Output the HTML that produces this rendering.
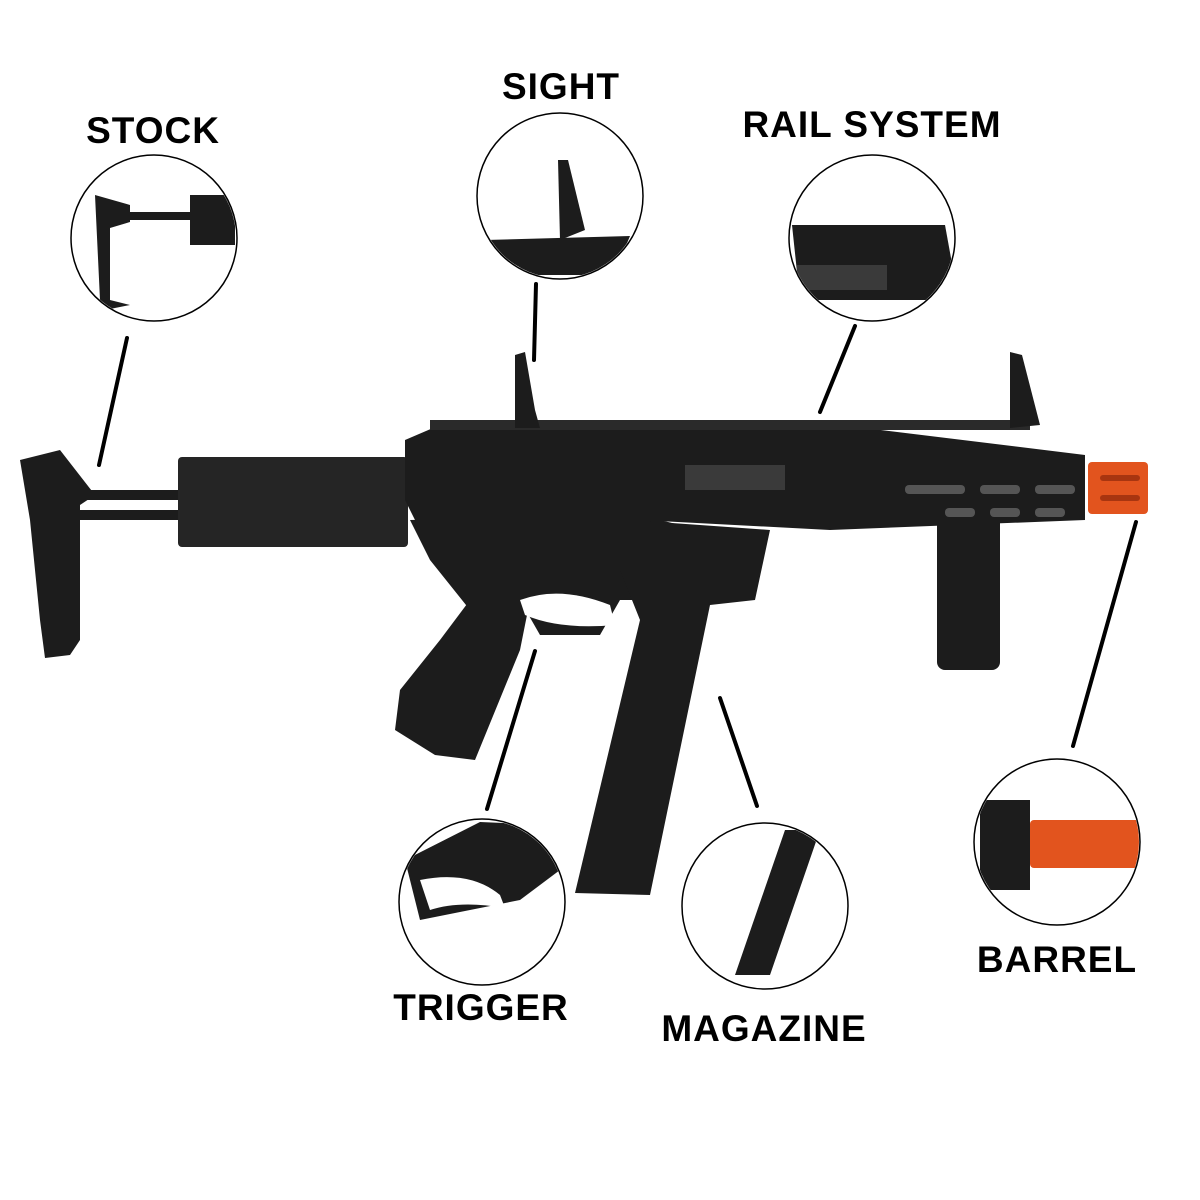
<!DOCTYPE html>
<html><head><meta charset="utf-8"><style>
html,body{margin:0;padding:0;background:#fff;width:1200px;height:1200px;overflow:hidden}
svg text{font-family:"Liberation Sans",sans-serif;font-weight:bold;font-size:37px;letter-spacing:1px;fill:#000}
</style></head><body>
<svg width="1200" height="1200" viewBox="0 0 1200 1200" xmlns="http://www.w3.org/2000/svg">
<defs>
<clipPath id="c1"><circle cx="154" cy="238" r="82"/></clipPath>
<clipPath id="c2"><circle cx="560" cy="196" r="82"/></clipPath>
<clipPath id="c3"><circle cx="872" cy="238" r="82"/></clipPath>
<clipPath id="c4"><circle cx="1057" cy="842" r="82"/></clipPath>
<clipPath id="c5"><circle cx="482" cy="902" r="82"/></clipPath>
<clipPath id="c6"><circle cx="765" cy="906" r="82"/></clipPath>
</defs>
<rect width="1200" height="1200" fill="#fff"/>
<text x="153" y="143" text-anchor="middle">STOCK</text>
<text x="561" y="99" text-anchor="middle">SIGHT</text>
<text x="872" y="137" text-anchor="middle">RAIL SYSTEM</text>
<text x="1057" y="972" text-anchor="middle">BARREL</text>
<text x="481" y="1020" text-anchor="middle">TRIGGER</text>
<text x="764" y="1041" text-anchor="middle">MAGAZINE</text>
<g stroke="#000" stroke-width="4" stroke-linecap="round">
<line x1="127" y1="338" x2="99" y2="465"/>
<line x1="536" y1="284" x2="534" y2="360"/>
<line x1="855" y1="326" x2="820" y2="412"/>
<line x1="1136" y1="522" x2="1073" y2="746"/>
<line x1="535" y1="651" x2="487" y2="809"/>
<line x1="720" y1="698" x2="757" y2="806"/>
</g>
<g fill="#1c1c1c">
<polygon points="20,460 60,450 95,495 80,505 80,640 70,655 45,658 40,620 30,520"/>
<rect x="80" y="490" width="110" height="10"/>
<rect x="80" y="510" width="130" height="10"/>
<rect x="178" y="457" width="230" height="90" rx="4" fill="#252525"/>
<polygon points="405,440 440,425 840,425 1085,455 1085,520 830,530 640,520 520,535 420,530 405,500"/>
<rect x="430" y="420" width="600" height="10" fill="#2a2a2a"/>
<polygon points="515,355 525,352 535,410 540,428 515,428"/>
<polygon points="1010,352 1022,355 1040,425 1010,428"/>
<polygon points="410,520 640,515 700,530 690,600 620,600 600,635 540,635 520,600 470,610 430,560"/>
<polygon points="470,600 530,600 520,650 475,760 435,755 395,730 400,690 440,640"/>
<polygon points="630,520 770,530 755,600 710,605 650,895 575,893 640,620 620,570"/>
<rect x="937" y="515" width="63" height="155" rx="8"/>
</g>
<path d="M520,600 Q560,585 610,605 L615,625 Q560,630 525,615 Z" fill="#fff"/>
<g fill="#555">
<rect x="905" y="485" width="60" height="9" rx="4"/><rect x="980" y="485" width="40" height="9" rx="4"/><rect x="1035" y="485" width="40" height="9" rx="4"/>
<rect x="945" y="508" width="30" height="9" rx="4"/><rect x="990" y="508" width="30" height="9" rx="4"/><rect x="1035" y="508" width="30" height="9" rx="4"/>
<rect x="685" y="465" width="100" height="25" fill="#3a3a3a"/>
</g>
<rect x="1088" y="462" width="60" height="52" rx="4" fill="#e2541e"/>
<g fill="#a83510"><rect x="1100" y="475" width="40" height="6" rx="3"/><rect x="1100" y="495" width="40" height="6" rx="3"/></g>
<g fill="#fff" stroke="#000" stroke-width="1.5">
<circle cx="154" cy="238" r="83"/>
<circle cx="560" cy="196" r="83"/>
<circle cx="872" cy="238" r="83"/>
<circle cx="1057" cy="842" r="83"/>
<circle cx="482" cy="902" r="83"/>
<circle cx="765" cy="906" r="83"/>
</g>
<g fill="#1c1c1c">
<g clip-path="url(#c1)">
<polygon points="95,195 130,205 130,222 110,228 110,300 130,305 105,310 100,300"/>
<rect x="130" y="212" width="60" height="8"/><rect x="190" y="195" width="45" height="50"/>
</g>
<g clip-path="url(#c2)">
<polygon points="485,240 630,236 620,260 585,275 510,275"/>
<polygon points="558,160 568,160 585,230 560,240"/>
</g>
<g clip-path="url(#c3)">
<polygon points="792,225 945,225 955,280 930,300 800,300"/>
<rect x="797" y="265" width="90" height="25" fill="#3a3a3a"/>
</g>
<g clip-path="url(#c4)">
<rect x="980" y="800" width="50" height="90"/>
<rect x="1030" y="820" width="110" height="48" rx="4" fill="#e2541e"/>
</g>
<g clip-path="url(#c5)">
<polygon points="405,860 480,822 550,825 560,870 520,900 470,910 420,920"/>
<path d="M420,880 Q470,870 500,895 L505,908 Q460,900 430,910 Z" fill="#fff"/>
</g>
<g clip-path="url(#c6)">
<polygon points="785,830 820,830 770,975 735,975"/>
</g>
</g>
</svg>
</body></html>
